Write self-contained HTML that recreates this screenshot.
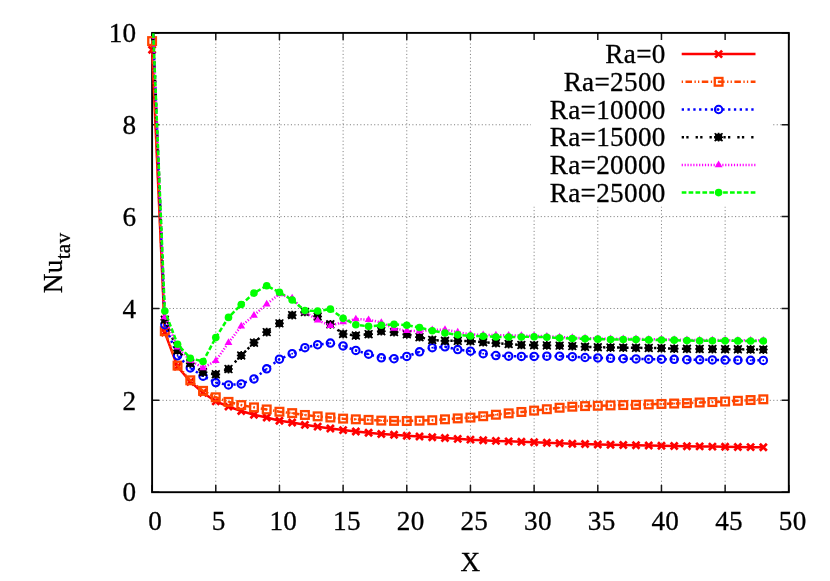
<!DOCTYPE html><html><head><meta charset="utf-8"><title>plot</title><style>html,body{margin:0;padding:0;background:#fff}svg{display:block;will-change:transform}text{font-family:"Liberation Serif",serif;font-size:27.2px;letter-spacing:0.3px;fill:#000;stroke:#000;stroke-width:0.3px}</style></head><body>
<svg width="830" height="581" viewBox="0 0 830 581">
<rect width="830" height="581" fill="#fff"/>
<path d="M215.77 492.2L215.77 32.9M279.44 492.2L279.44 32.9M343.11 492.2L343.11 32.9M406.78 492.2L406.78 32.9M470.45 492.2L470.45 32.9M534.12 492.2L534.12 32.9M597.79 492.2L597.79 32.9M661.46 492.2L661.46 32.9M725.13 492.2L725.13 32.9M152.1 400.34L788.8 400.34M152.1 308.48L788.8 308.48M152.1 216.62L788.8 216.62M152.1 124.76L788.8 124.76" stroke="#808080" stroke-width="1" stroke-dasharray="1.1 2.37" fill="none"/>
<rect x="531" y="34" width="241" height="172.5" fill="#fff"/>
<path d="M152.10 492.2L152.10 485.0M152.10 32.9L152.10 40.1M215.77 492.2L215.77 485.0M215.77 32.9L215.77 40.1M279.44 492.2L279.44 485.0M279.44 32.9L279.44 40.1M343.11 492.2L343.11 485.0M343.11 32.9L343.11 40.1M406.78 492.2L406.78 485.0M406.78 32.9L406.78 40.1M470.45 492.2L470.45 485.0M470.45 32.9L470.45 40.1M534.12 492.2L534.12 485.0M534.12 32.9L534.12 40.1M597.79 492.2L597.79 485.0M597.79 32.9L597.79 40.1M661.46 492.2L661.46 485.0M661.46 32.9L661.46 40.1M725.13 492.2L725.13 485.0M725.13 32.9L725.13 40.1M788.80 492.2L788.80 485.0M788.80 32.9L788.80 40.1M152.1 492.20L159.29999999999998 492.20M788.8 492.20L781.5999999999999 492.20M152.1 400.34L159.29999999999998 400.34M788.8 400.34L781.5999999999999 400.34M152.1 308.48L159.29999999999998 308.48M788.8 308.48L781.5999999999999 308.48M152.1 216.62L159.29999999999998 216.62M788.8 216.62L781.5999999999999 216.62M152.1 124.76L159.29999999999998 124.76M788.8 124.76L781.5999999999999 124.76M152.1 32.90L159.29999999999998 32.90M788.8 32.90L781.5999999999999 32.90" stroke="#1a1a1a" stroke-width="1.5" fill="none"/>
<text x="155.10" y="529.6" text-anchor="middle">0</text>
<text x="218.77" y="529.6" text-anchor="middle">5</text>
<text x="283.34" y="529.6" text-anchor="middle">10</text>
<text x="347.01" y="529.6" text-anchor="middle">15</text>
<text x="410.68" y="529.6" text-anchor="middle">20</text>
<text x="474.35" y="529.6" text-anchor="middle">25</text>
<text x="538.02" y="529.6" text-anchor="middle">30</text>
<text x="601.69" y="529.6" text-anchor="middle">35</text>
<text x="665.36" y="529.6" text-anchor="middle">40</text>
<text x="729.03" y="529.6" text-anchor="middle">45</text>
<text x="792.70" y="529.6" text-anchor="middle">50</text>
<text x="136.5" y="501.40" text-anchor="end">0</text>
<text x="136.5" y="409.54" text-anchor="end">2</text>
<text x="136.5" y="317.68" text-anchor="end">4</text>
<text x="136.5" y="225.82" text-anchor="end">6</text>
<text x="136.5" y="133.96" text-anchor="end">8</text>
<text x="136.5" y="42.10" text-anchor="end">10</text>
<text x="470.4" y="571.2" text-anchor="middle">X</text>
<text transform="translate(61.8,293.2) rotate(-90)" x="0" y="0">Nu<tspan font-size="21.33px" dy="8.5">tav</tspan></text>
<rect x="152.1" y="32.9" width="636.6999999999999" height="459.3" fill="none" stroke="#000" stroke-width="1.9"/>
<defs><clipPath id="c"><rect x="151.1" y="32.9" width="638.6999999999999" height="459.3"/></clipPath></defs>
<polyline points="152.10,49.82 164.83,332.57 177.57,366.53 190.30,381.68 203.04,392.70 215.77,401.42 228.50,406.47 241.24,411.06 253.97,414.73 266.71,417.48 279.44,420.70 292.17,422.53 304.91,424.83 317.64,426.66 330.38,428.50 343.11,430.11 355.84,431.48 368.58,432.77 381.31,434.01 394.05,434.79 406.78,435.75 419.51,436.49 432.25,437.22 444.98,438.00 457.72,438.83 470.45,439.65 483.18,440.30 495.92,440.89 508.65,441.35 521.39,441.81 534.12,442.27 546.85,442.73 559.59,443.28 572.32,443.74 585.06,444.06 597.79,444.43 610.52,444.70 623.26,444.93 635.99,445.21 648.73,445.48 661.46,445.80 674.19,446.03 686.93,446.22 699.66,446.40 712.40,446.58 725.13,446.77 737.86,446.95 750.60,447.13 763.33,447.32" fill="none" stroke="#ff0000" stroke-width="2.5" clip-path="url(#c)"/>
<path d="M148.60 46.32L155.60 53.32M148.60 53.32L155.60 46.32" stroke="#ff0000" stroke-width="2.7" fill="none"/>
<path d="M161.33 329.07L168.33 336.07M161.33 336.07L168.33 329.07" stroke="#ff0000" stroke-width="2.7" fill="none"/>
<path d="M174.07 363.03L181.07 370.03M174.07 370.03L181.07 363.03" stroke="#ff0000" stroke-width="2.7" fill="none"/>
<path d="M186.80 378.18L193.80 385.18M186.80 385.18L193.80 378.18" stroke="#ff0000" stroke-width="2.7" fill="none"/>
<path d="M199.54 389.20L206.54 396.20M199.54 396.20L206.54 389.20" stroke="#ff0000" stroke-width="2.7" fill="none"/>
<path d="M212.27 397.92L219.27 404.92M212.27 404.92L219.27 397.92" stroke="#ff0000" stroke-width="2.7" fill="none"/>
<path d="M225.00 402.97L232.00 409.97M225.00 409.97L232.00 402.97" stroke="#ff0000" stroke-width="2.7" fill="none"/>
<path d="M237.74 407.56L244.74 414.56M237.74 414.56L244.74 407.56" stroke="#ff0000" stroke-width="2.7" fill="none"/>
<path d="M250.47 411.23L257.47 418.23M250.47 418.23L257.47 411.23" stroke="#ff0000" stroke-width="2.7" fill="none"/>
<path d="M263.21 413.98L270.21 420.98M263.21 420.98L270.21 413.98" stroke="#ff0000" stroke-width="2.7" fill="none"/>
<path d="M275.94 417.20L282.94 424.20M275.94 424.20L282.94 417.20" stroke="#ff0000" stroke-width="2.7" fill="none"/>
<path d="M288.67 419.03L295.67 426.03M288.67 426.03L295.67 419.03" stroke="#ff0000" stroke-width="2.7" fill="none"/>
<path d="M301.41 421.33L308.41 428.33M301.41 428.33L308.41 421.33" stroke="#ff0000" stroke-width="2.7" fill="none"/>
<path d="M314.14 423.16L321.14 430.16M314.14 430.16L321.14 423.16" stroke="#ff0000" stroke-width="2.7" fill="none"/>
<path d="M326.88 425.00L333.88 432.00M326.88 432.00L333.88 425.00" stroke="#ff0000" stroke-width="2.7" fill="none"/>
<path d="M339.61 426.61L346.61 433.61M339.61 433.61L346.61 426.61" stroke="#ff0000" stroke-width="2.7" fill="none"/>
<path d="M352.34 427.98L359.34 434.98M352.34 434.98L359.34 427.98" stroke="#ff0000" stroke-width="2.7" fill="none"/>
<path d="M365.08 429.27L372.08 436.27M365.08 436.27L372.08 429.27" stroke="#ff0000" stroke-width="2.7" fill="none"/>
<path d="M377.81 430.51L384.81 437.51M377.81 437.51L384.81 430.51" stroke="#ff0000" stroke-width="2.7" fill="none"/>
<path d="M390.55 431.29L397.55 438.29M390.55 438.29L397.55 431.29" stroke="#ff0000" stroke-width="2.7" fill="none"/>
<path d="M403.28 432.25L410.28 439.25M403.28 439.25L410.28 432.25" stroke="#ff0000" stroke-width="2.7" fill="none"/>
<path d="M416.01 432.99L423.01 439.99M416.01 439.99L423.01 432.99" stroke="#ff0000" stroke-width="2.7" fill="none"/>
<path d="M428.75 433.72L435.75 440.72M428.75 440.72L435.75 433.72" stroke="#ff0000" stroke-width="2.7" fill="none"/>
<path d="M441.48 434.50L448.48 441.50M441.48 441.50L448.48 434.50" stroke="#ff0000" stroke-width="2.7" fill="none"/>
<path d="M454.22 435.33L461.22 442.33M454.22 442.33L461.22 435.33" stroke="#ff0000" stroke-width="2.7" fill="none"/>
<path d="M466.95 436.15L473.95 443.15M466.95 443.15L473.95 436.15" stroke="#ff0000" stroke-width="2.7" fill="none"/>
<path d="M479.68 436.80L486.68 443.80M479.68 443.80L486.68 436.80" stroke="#ff0000" stroke-width="2.7" fill="none"/>
<path d="M492.42 437.39L499.42 444.39M492.42 444.39L499.42 437.39" stroke="#ff0000" stroke-width="2.7" fill="none"/>
<path d="M505.15 437.85L512.15 444.85M505.15 444.85L512.15 437.85" stroke="#ff0000" stroke-width="2.7" fill="none"/>
<path d="M517.89 438.31L524.89 445.31M517.89 445.31L524.89 438.31" stroke="#ff0000" stroke-width="2.7" fill="none"/>
<path d="M530.62 438.77L537.62 445.77M530.62 445.77L537.62 438.77" stroke="#ff0000" stroke-width="2.7" fill="none"/>
<path d="M543.35 439.23L550.35 446.23M543.35 446.23L550.35 439.23" stroke="#ff0000" stroke-width="2.7" fill="none"/>
<path d="M556.09 439.78L563.09 446.78M556.09 446.78L563.09 439.78" stroke="#ff0000" stroke-width="2.7" fill="none"/>
<path d="M568.82 440.24L575.82 447.24M568.82 447.24L575.82 440.24" stroke="#ff0000" stroke-width="2.7" fill="none"/>
<path d="M581.56 440.56L588.56 447.56M581.56 447.56L588.56 440.56" stroke="#ff0000" stroke-width="2.7" fill="none"/>
<path d="M594.29 440.93L601.29 447.93M594.29 447.93L601.29 440.93" stroke="#ff0000" stroke-width="2.7" fill="none"/>
<path d="M607.02 441.20L614.02 448.20M607.02 448.20L614.02 441.20" stroke="#ff0000" stroke-width="2.7" fill="none"/>
<path d="M619.76 441.43L626.76 448.43M619.76 448.43L626.76 441.43" stroke="#ff0000" stroke-width="2.7" fill="none"/>
<path d="M632.49 441.71L639.49 448.71M632.49 448.71L639.49 441.71" stroke="#ff0000" stroke-width="2.7" fill="none"/>
<path d="M645.23 441.98L652.23 448.98M645.23 448.98L652.23 441.98" stroke="#ff0000" stroke-width="2.7" fill="none"/>
<path d="M657.96 442.30L664.96 449.30M657.96 449.30L664.96 442.30" stroke="#ff0000" stroke-width="2.7" fill="none"/>
<path d="M670.69 442.53L677.69 449.53M670.69 449.53L677.69 442.53" stroke="#ff0000" stroke-width="2.7" fill="none"/>
<path d="M683.43 442.72L690.43 449.72M683.43 449.72L690.43 442.72" stroke="#ff0000" stroke-width="2.7" fill="none"/>
<path d="M696.16 442.90L703.16 449.90M696.16 449.90L703.16 442.90" stroke="#ff0000" stroke-width="2.7" fill="none"/>
<path d="M708.90 443.08L715.90 450.08M708.90 450.08L715.90 443.08" stroke="#ff0000" stroke-width="2.7" fill="none"/>
<path d="M721.63 443.27L728.63 450.27M721.63 450.27L728.63 443.27" stroke="#ff0000" stroke-width="2.7" fill="none"/>
<path d="M734.36 443.45L741.36 450.45M734.36 450.45L741.36 443.45" stroke="#ff0000" stroke-width="2.7" fill="none"/>
<path d="M747.10 443.63L754.10 450.63M747.10 450.63L754.10 443.63" stroke="#ff0000" stroke-width="2.7" fill="none"/>
<path d="M759.83 443.82L766.83 450.82M759.83 450.82L766.83 443.82" stroke="#ff0000" stroke-width="2.7" fill="none"/>
<text x="665.7" y="63.20" text-anchor="end">Ra=0</text>
<path d="M681.7 54.10L755.5 54.10" stroke="#ff0000" stroke-width="2.5" fill="none"/>
<path d="M715.10 50.60L722.10 57.60M715.10 57.60L722.10 50.60" stroke="#ff0000" stroke-width="2.7" fill="none"/>
<polyline points="152.10,41.10 164.83,331.19 177.57,365.62 190.30,380.30 203.04,390.86 215.77,397.29 228.50,401.88 241.24,405.09 253.97,407.38 266.71,409.45 279.44,411.75 292.17,413.12 304.91,414.96 317.64,416.34 330.38,417.48 343.11,418.63 355.84,419.32 368.58,419.87 381.31,420.60 394.05,420.88 406.78,421.02 419.51,420.70 432.25,420.24 444.98,419.32 457.72,418.40 470.45,417.57 483.18,416.24 495.92,414.73 508.65,413.35 521.39,411.98 534.12,410.60 546.85,409.22 559.59,407.75 572.32,406.70 585.06,406.10 597.79,405.78 610.52,405.41 623.26,405.09 635.99,404.86 648.73,404.40 661.46,403.94 674.19,403.53 686.93,403.16 699.66,402.52 712.40,402.06 725.13,401.51 737.86,400.78 750.60,400.04 763.33,399.31" fill="none" stroke="#ff4500" stroke-width="2.5" stroke-dasharray="6.5 2.5 1.3 2.2 1.3 2.5" clip-path="url(#c)"/>
<rect x="148.25" y="37.25" width="7.7" height="7.7" stroke="#ff4500" stroke-width="2.3" fill="none"/><rect x="151.30" y="40.30" width="1.6" height="1.6" fill="#ff4500"/>
<rect x="160.98" y="327.34" width="7.7" height="7.7" stroke="#ff4500" stroke-width="2.3" fill="none"/><rect x="164.03" y="330.39" width="1.6" height="1.6" fill="#ff4500"/>
<rect x="173.72" y="361.77" width="7.7" height="7.7" stroke="#ff4500" stroke-width="2.3" fill="none"/><rect x="176.77" y="364.82" width="1.6" height="1.6" fill="#ff4500"/>
<rect x="186.45" y="376.45" width="7.7" height="7.7" stroke="#ff4500" stroke-width="2.3" fill="none"/><rect x="189.50" y="379.50" width="1.6" height="1.6" fill="#ff4500"/>
<rect x="199.19" y="387.01" width="7.7" height="7.7" stroke="#ff4500" stroke-width="2.3" fill="none"/><rect x="202.24" y="390.06" width="1.6" height="1.6" fill="#ff4500"/>
<rect x="211.92" y="393.44" width="7.7" height="7.7" stroke="#ff4500" stroke-width="2.3" fill="none"/><rect x="214.97" y="396.49" width="1.6" height="1.6" fill="#ff4500"/>
<rect x="224.65" y="398.03" width="7.7" height="7.7" stroke="#ff4500" stroke-width="2.3" fill="none"/><rect x="227.70" y="401.08" width="1.6" height="1.6" fill="#ff4500"/>
<rect x="237.39" y="401.24" width="7.7" height="7.7" stroke="#ff4500" stroke-width="2.3" fill="none"/><rect x="240.44" y="404.29" width="1.6" height="1.6" fill="#ff4500"/>
<rect x="250.12" y="403.53" width="7.7" height="7.7" stroke="#ff4500" stroke-width="2.3" fill="none"/><rect x="253.17" y="406.58" width="1.6" height="1.6" fill="#ff4500"/>
<rect x="262.86" y="405.60" width="7.7" height="7.7" stroke="#ff4500" stroke-width="2.3" fill="none"/><rect x="265.91" y="408.65" width="1.6" height="1.6" fill="#ff4500"/>
<rect x="275.59" y="407.90" width="7.7" height="7.7" stroke="#ff4500" stroke-width="2.3" fill="none"/><rect x="278.64" y="410.95" width="1.6" height="1.6" fill="#ff4500"/>
<rect x="288.32" y="409.27" width="7.7" height="7.7" stroke="#ff4500" stroke-width="2.3" fill="none"/><rect x="291.37" y="412.32" width="1.6" height="1.6" fill="#ff4500"/>
<rect x="301.06" y="411.11" width="7.7" height="7.7" stroke="#ff4500" stroke-width="2.3" fill="none"/><rect x="304.11" y="414.16" width="1.6" height="1.6" fill="#ff4500"/>
<rect x="313.79" y="412.49" width="7.7" height="7.7" stroke="#ff4500" stroke-width="2.3" fill="none"/><rect x="316.84" y="415.54" width="1.6" height="1.6" fill="#ff4500"/>
<rect x="326.53" y="413.63" width="7.7" height="7.7" stroke="#ff4500" stroke-width="2.3" fill="none"/><rect x="329.58" y="416.68" width="1.6" height="1.6" fill="#ff4500"/>
<rect x="339.26" y="414.78" width="7.7" height="7.7" stroke="#ff4500" stroke-width="2.3" fill="none"/><rect x="342.31" y="417.83" width="1.6" height="1.6" fill="#ff4500"/>
<rect x="351.99" y="415.47" width="7.7" height="7.7" stroke="#ff4500" stroke-width="2.3" fill="none"/><rect x="355.04" y="418.52" width="1.6" height="1.6" fill="#ff4500"/>
<rect x="364.73" y="416.02" width="7.7" height="7.7" stroke="#ff4500" stroke-width="2.3" fill="none"/><rect x="367.78" y="419.07" width="1.6" height="1.6" fill="#ff4500"/>
<rect x="377.46" y="416.75" width="7.7" height="7.7" stroke="#ff4500" stroke-width="2.3" fill="none"/><rect x="380.51" y="419.80" width="1.6" height="1.6" fill="#ff4500"/>
<rect x="390.20" y="417.03" width="7.7" height="7.7" stroke="#ff4500" stroke-width="2.3" fill="none"/><rect x="393.25" y="420.08" width="1.6" height="1.6" fill="#ff4500"/>
<rect x="402.93" y="417.17" width="7.7" height="7.7" stroke="#ff4500" stroke-width="2.3" fill="none"/><rect x="405.98" y="420.22" width="1.6" height="1.6" fill="#ff4500"/>
<rect x="415.66" y="416.85" width="7.7" height="7.7" stroke="#ff4500" stroke-width="2.3" fill="none"/><rect x="418.71" y="419.90" width="1.6" height="1.6" fill="#ff4500"/>
<rect x="428.40" y="416.39" width="7.7" height="7.7" stroke="#ff4500" stroke-width="2.3" fill="none"/><rect x="431.45" y="419.44" width="1.6" height="1.6" fill="#ff4500"/>
<rect x="441.13" y="415.47" width="7.7" height="7.7" stroke="#ff4500" stroke-width="2.3" fill="none"/><rect x="444.18" y="418.52" width="1.6" height="1.6" fill="#ff4500"/>
<rect x="453.87" y="414.55" width="7.7" height="7.7" stroke="#ff4500" stroke-width="2.3" fill="none"/><rect x="456.92" y="417.60" width="1.6" height="1.6" fill="#ff4500"/>
<rect x="466.60" y="413.72" width="7.7" height="7.7" stroke="#ff4500" stroke-width="2.3" fill="none"/><rect x="469.65" y="416.77" width="1.6" height="1.6" fill="#ff4500"/>
<rect x="479.33" y="412.39" width="7.7" height="7.7" stroke="#ff4500" stroke-width="2.3" fill="none"/><rect x="482.38" y="415.44" width="1.6" height="1.6" fill="#ff4500"/>
<rect x="492.07" y="410.88" width="7.7" height="7.7" stroke="#ff4500" stroke-width="2.3" fill="none"/><rect x="495.12" y="413.93" width="1.6" height="1.6" fill="#ff4500"/>
<rect x="504.80" y="409.50" width="7.7" height="7.7" stroke="#ff4500" stroke-width="2.3" fill="none"/><rect x="507.85" y="412.55" width="1.6" height="1.6" fill="#ff4500"/>
<rect x="517.54" y="408.12" width="7.7" height="7.7" stroke="#ff4500" stroke-width="2.3" fill="none"/><rect x="520.59" y="411.18" width="1.6" height="1.6" fill="#ff4500"/>
<rect x="530.27" y="406.75" width="7.7" height="7.7" stroke="#ff4500" stroke-width="2.3" fill="none"/><rect x="533.32" y="409.80" width="1.6" height="1.6" fill="#ff4500"/>
<rect x="543.00" y="405.37" width="7.7" height="7.7" stroke="#ff4500" stroke-width="2.3" fill="none"/><rect x="546.05" y="408.42" width="1.6" height="1.6" fill="#ff4500"/>
<rect x="555.74" y="403.90" width="7.7" height="7.7" stroke="#ff4500" stroke-width="2.3" fill="none"/><rect x="558.79" y="406.95" width="1.6" height="1.6" fill="#ff4500"/>
<rect x="568.47" y="402.85" width="7.7" height="7.7" stroke="#ff4500" stroke-width="2.3" fill="none"/><rect x="571.52" y="405.90" width="1.6" height="1.6" fill="#ff4500"/>
<rect x="581.21" y="402.25" width="7.7" height="7.7" stroke="#ff4500" stroke-width="2.3" fill="none"/><rect x="584.26" y="405.30" width="1.6" height="1.6" fill="#ff4500"/>
<rect x="593.94" y="401.93" width="7.7" height="7.7" stroke="#ff4500" stroke-width="2.3" fill="none"/><rect x="596.99" y="404.98" width="1.6" height="1.6" fill="#ff4500"/>
<rect x="606.67" y="401.56" width="7.7" height="7.7" stroke="#ff4500" stroke-width="2.3" fill="none"/><rect x="609.72" y="404.61" width="1.6" height="1.6" fill="#ff4500"/>
<rect x="619.41" y="401.24" width="7.7" height="7.7" stroke="#ff4500" stroke-width="2.3" fill="none"/><rect x="622.46" y="404.29" width="1.6" height="1.6" fill="#ff4500"/>
<rect x="632.14" y="401.01" width="7.7" height="7.7" stroke="#ff4500" stroke-width="2.3" fill="none"/><rect x="635.19" y="404.06" width="1.6" height="1.6" fill="#ff4500"/>
<rect x="644.88" y="400.55" width="7.7" height="7.7" stroke="#ff4500" stroke-width="2.3" fill="none"/><rect x="647.93" y="403.60" width="1.6" height="1.6" fill="#ff4500"/>
<rect x="657.61" y="400.09" width="7.7" height="7.7" stroke="#ff4500" stroke-width="2.3" fill="none"/><rect x="660.66" y="403.14" width="1.6" height="1.6" fill="#ff4500"/>
<rect x="670.34" y="399.68" width="7.7" height="7.7" stroke="#ff4500" stroke-width="2.3" fill="none"/><rect x="673.39" y="402.73" width="1.6" height="1.6" fill="#ff4500"/>
<rect x="683.08" y="399.31" width="7.7" height="7.7" stroke="#ff4500" stroke-width="2.3" fill="none"/><rect x="686.13" y="402.36" width="1.6" height="1.6" fill="#ff4500"/>
<rect x="695.81" y="398.67" width="7.7" height="7.7" stroke="#ff4500" stroke-width="2.3" fill="none"/><rect x="698.86" y="401.72" width="1.6" height="1.6" fill="#ff4500"/>
<rect x="708.55" y="398.21" width="7.7" height="7.7" stroke="#ff4500" stroke-width="2.3" fill="none"/><rect x="711.60" y="401.26" width="1.6" height="1.6" fill="#ff4500"/>
<rect x="721.28" y="397.66" width="7.7" height="7.7" stroke="#ff4500" stroke-width="2.3" fill="none"/><rect x="724.33" y="400.71" width="1.6" height="1.6" fill="#ff4500"/>
<rect x="734.01" y="396.93" width="7.7" height="7.7" stroke="#ff4500" stroke-width="2.3" fill="none"/><rect x="737.06" y="399.98" width="1.6" height="1.6" fill="#ff4500"/>
<rect x="746.75" y="396.19" width="7.7" height="7.7" stroke="#ff4500" stroke-width="2.3" fill="none"/><rect x="749.80" y="399.24" width="1.6" height="1.6" fill="#ff4500"/>
<rect x="759.48" y="395.46" width="7.7" height="7.7" stroke="#ff4500" stroke-width="2.3" fill="none"/><rect x="762.53" y="398.51" width="1.6" height="1.6" fill="#ff4500"/>
<text x="665.7" y="90.90" text-anchor="end">Ra=2500</text>
<path d="M681.7 81.80L755.5 81.80" stroke="#ff4500" stroke-width="2.5" stroke-dasharray="6.5 2.5 1.3 2.2 1.3 2.5" stroke-dashoffset="12.5" fill="none"/>
<rect x="714.75" y="77.95" width="7.7" height="7.7" stroke="#ff4500" stroke-width="2.3" fill="none"/><rect x="717.80" y="81.00" width="1.6" height="1.6" fill="#ff4500"/>
<polyline points="152.10,5.76 164.83,324.76 177.57,355.75 190.30,367.91 203.04,376.17 215.77,382.60 228.50,384.89 241.24,383.98 253.97,378.93 266.71,368.83 279.44,359.19 292.17,353.68 304.91,347.72 317.64,344.73 330.38,343.12 343.11,345.88 355.84,350.47 368.58,354.14 381.31,357.81 394.05,358.73 406.78,356.44 419.51,351.85 432.25,347.72 444.98,346.80 457.72,349.55 470.45,351.16 483.18,353.68 495.92,355.52 508.65,356.21 521.39,356.44 534.12,356.44 546.85,356.21 559.59,356.21 572.32,356.67 585.06,357.49 597.79,357.90 610.52,358.36 623.26,358.73 635.99,358.91 648.73,359.19 661.46,359.19 674.19,359.37 686.93,359.65 699.66,359.79 712.40,359.92 725.13,360.06 737.86,360.15 750.60,360.29 763.33,360.38" fill="none" stroke="#0000ff" stroke-width="2.5" stroke-dasharray="2.3 3.5" clip-path="url(#c)"/>
<circle cx="164.83" cy="324.76" r="3.7" stroke="#0000ff" stroke-width="2.1" fill="none"/><circle cx="164.83" cy="324.76" r="0.9" fill="#0000ff"/>
<circle cx="177.57" cy="355.75" r="3.7" stroke="#0000ff" stroke-width="2.1" fill="none"/><circle cx="177.57" cy="355.75" r="0.9" fill="#0000ff"/>
<circle cx="190.30" cy="367.91" r="3.7" stroke="#0000ff" stroke-width="2.1" fill="none"/><circle cx="190.30" cy="367.91" r="0.9" fill="#0000ff"/>
<circle cx="203.04" cy="376.17" r="3.7" stroke="#0000ff" stroke-width="2.1" fill="none"/><circle cx="203.04" cy="376.17" r="0.9" fill="#0000ff"/>
<circle cx="215.77" cy="382.60" r="3.7" stroke="#0000ff" stroke-width="2.1" fill="none"/><circle cx="215.77" cy="382.60" r="0.9" fill="#0000ff"/>
<circle cx="228.50" cy="384.89" r="3.7" stroke="#0000ff" stroke-width="2.1" fill="none"/><circle cx="228.50" cy="384.89" r="0.9" fill="#0000ff"/>
<circle cx="241.24" cy="383.98" r="3.7" stroke="#0000ff" stroke-width="2.1" fill="none"/><circle cx="241.24" cy="383.98" r="0.9" fill="#0000ff"/>
<circle cx="253.97" cy="378.93" r="3.7" stroke="#0000ff" stroke-width="2.1" fill="none"/><circle cx="253.97" cy="378.93" r="0.9" fill="#0000ff"/>
<circle cx="266.71" cy="368.83" r="3.7" stroke="#0000ff" stroke-width="2.1" fill="none"/><circle cx="266.71" cy="368.83" r="0.9" fill="#0000ff"/>
<circle cx="279.44" cy="359.19" r="3.7" stroke="#0000ff" stroke-width="2.1" fill="none"/><circle cx="279.44" cy="359.19" r="0.9" fill="#0000ff"/>
<circle cx="292.17" cy="353.68" r="3.7" stroke="#0000ff" stroke-width="2.1" fill="none"/><circle cx="292.17" cy="353.68" r="0.9" fill="#0000ff"/>
<circle cx="304.91" cy="347.72" r="3.7" stroke="#0000ff" stroke-width="2.1" fill="none"/><circle cx="304.91" cy="347.72" r="0.9" fill="#0000ff"/>
<circle cx="317.64" cy="344.73" r="3.7" stroke="#0000ff" stroke-width="2.1" fill="none"/><circle cx="317.64" cy="344.73" r="0.9" fill="#0000ff"/>
<circle cx="330.38" cy="343.12" r="3.7" stroke="#0000ff" stroke-width="2.1" fill="none"/><circle cx="330.38" cy="343.12" r="0.9" fill="#0000ff"/>
<circle cx="343.11" cy="345.88" r="3.7" stroke="#0000ff" stroke-width="2.1" fill="none"/><circle cx="343.11" cy="345.88" r="0.9" fill="#0000ff"/>
<circle cx="355.84" cy="350.47" r="3.7" stroke="#0000ff" stroke-width="2.1" fill="none"/><circle cx="355.84" cy="350.47" r="0.9" fill="#0000ff"/>
<circle cx="368.58" cy="354.14" r="3.7" stroke="#0000ff" stroke-width="2.1" fill="none"/><circle cx="368.58" cy="354.14" r="0.9" fill="#0000ff"/>
<circle cx="381.31" cy="357.81" r="3.7" stroke="#0000ff" stroke-width="2.1" fill="none"/><circle cx="381.31" cy="357.81" r="0.9" fill="#0000ff"/>
<circle cx="394.05" cy="358.73" r="3.7" stroke="#0000ff" stroke-width="2.1" fill="none"/><circle cx="394.05" cy="358.73" r="0.9" fill="#0000ff"/>
<circle cx="406.78" cy="356.44" r="3.7" stroke="#0000ff" stroke-width="2.1" fill="none"/><circle cx="406.78" cy="356.44" r="0.9" fill="#0000ff"/>
<circle cx="419.51" cy="351.85" r="3.7" stroke="#0000ff" stroke-width="2.1" fill="none"/><circle cx="419.51" cy="351.85" r="0.9" fill="#0000ff"/>
<circle cx="432.25" cy="347.72" r="3.7" stroke="#0000ff" stroke-width="2.1" fill="none"/><circle cx="432.25" cy="347.72" r="0.9" fill="#0000ff"/>
<circle cx="444.98" cy="346.80" r="3.7" stroke="#0000ff" stroke-width="2.1" fill="none"/><circle cx="444.98" cy="346.80" r="0.9" fill="#0000ff"/>
<circle cx="457.72" cy="349.55" r="3.7" stroke="#0000ff" stroke-width="2.1" fill="none"/><circle cx="457.72" cy="349.55" r="0.9" fill="#0000ff"/>
<circle cx="470.45" cy="351.16" r="3.7" stroke="#0000ff" stroke-width="2.1" fill="none"/><circle cx="470.45" cy="351.16" r="0.9" fill="#0000ff"/>
<circle cx="483.18" cy="353.68" r="3.7" stroke="#0000ff" stroke-width="2.1" fill="none"/><circle cx="483.18" cy="353.68" r="0.9" fill="#0000ff"/>
<circle cx="495.92" cy="355.52" r="3.7" stroke="#0000ff" stroke-width="2.1" fill="none"/><circle cx="495.92" cy="355.52" r="0.9" fill="#0000ff"/>
<circle cx="508.65" cy="356.21" r="3.7" stroke="#0000ff" stroke-width="2.1" fill="none"/><circle cx="508.65" cy="356.21" r="0.9" fill="#0000ff"/>
<circle cx="521.39" cy="356.44" r="3.7" stroke="#0000ff" stroke-width="2.1" fill="none"/><circle cx="521.39" cy="356.44" r="0.9" fill="#0000ff"/>
<circle cx="534.12" cy="356.44" r="3.7" stroke="#0000ff" stroke-width="2.1" fill="none"/><circle cx="534.12" cy="356.44" r="0.9" fill="#0000ff"/>
<circle cx="546.85" cy="356.21" r="3.7" stroke="#0000ff" stroke-width="2.1" fill="none"/><circle cx="546.85" cy="356.21" r="0.9" fill="#0000ff"/>
<circle cx="559.59" cy="356.21" r="3.7" stroke="#0000ff" stroke-width="2.1" fill="none"/><circle cx="559.59" cy="356.21" r="0.9" fill="#0000ff"/>
<circle cx="572.32" cy="356.67" r="3.7" stroke="#0000ff" stroke-width="2.1" fill="none"/><circle cx="572.32" cy="356.67" r="0.9" fill="#0000ff"/>
<circle cx="585.06" cy="357.49" r="3.7" stroke="#0000ff" stroke-width="2.1" fill="none"/><circle cx="585.06" cy="357.49" r="0.9" fill="#0000ff"/>
<circle cx="597.79" cy="357.90" r="3.7" stroke="#0000ff" stroke-width="2.1" fill="none"/><circle cx="597.79" cy="357.90" r="0.9" fill="#0000ff"/>
<circle cx="610.52" cy="358.36" r="3.7" stroke="#0000ff" stroke-width="2.1" fill="none"/><circle cx="610.52" cy="358.36" r="0.9" fill="#0000ff"/>
<circle cx="623.26" cy="358.73" r="3.7" stroke="#0000ff" stroke-width="2.1" fill="none"/><circle cx="623.26" cy="358.73" r="0.9" fill="#0000ff"/>
<circle cx="635.99" cy="358.91" r="3.7" stroke="#0000ff" stroke-width="2.1" fill="none"/><circle cx="635.99" cy="358.91" r="0.9" fill="#0000ff"/>
<circle cx="648.73" cy="359.19" r="3.7" stroke="#0000ff" stroke-width="2.1" fill="none"/><circle cx="648.73" cy="359.19" r="0.9" fill="#0000ff"/>
<circle cx="661.46" cy="359.19" r="3.7" stroke="#0000ff" stroke-width="2.1" fill="none"/><circle cx="661.46" cy="359.19" r="0.9" fill="#0000ff"/>
<circle cx="674.19" cy="359.37" r="3.7" stroke="#0000ff" stroke-width="2.1" fill="none"/><circle cx="674.19" cy="359.37" r="0.9" fill="#0000ff"/>
<circle cx="686.93" cy="359.65" r="3.7" stroke="#0000ff" stroke-width="2.1" fill="none"/><circle cx="686.93" cy="359.65" r="0.9" fill="#0000ff"/>
<circle cx="699.66" cy="359.79" r="3.7" stroke="#0000ff" stroke-width="2.1" fill="none"/><circle cx="699.66" cy="359.79" r="0.9" fill="#0000ff"/>
<circle cx="712.40" cy="359.92" r="3.7" stroke="#0000ff" stroke-width="2.1" fill="none"/><circle cx="712.40" cy="359.92" r="0.9" fill="#0000ff"/>
<circle cx="725.13" cy="360.06" r="3.7" stroke="#0000ff" stroke-width="2.1" fill="none"/><circle cx="725.13" cy="360.06" r="0.9" fill="#0000ff"/>
<circle cx="737.86" cy="360.15" r="3.7" stroke="#0000ff" stroke-width="2.1" fill="none"/><circle cx="737.86" cy="360.15" r="0.9" fill="#0000ff"/>
<circle cx="750.60" cy="360.29" r="3.7" stroke="#0000ff" stroke-width="2.1" fill="none"/><circle cx="750.60" cy="360.29" r="0.9" fill="#0000ff"/>
<circle cx="763.33" cy="360.38" r="3.7" stroke="#0000ff" stroke-width="2.1" fill="none"/><circle cx="763.33" cy="360.38" r="0.9" fill="#0000ff"/>
<text x="665.7" y="118.60" text-anchor="end">Ra=10000</text>
<path d="M681.7 109.50L755.5 109.50" stroke="#0000ff" stroke-width="2.5" stroke-dasharray="2.3 3.5" fill="none"/>
<circle cx="718.60" cy="109.50" r="3.7" stroke="#0000ff" stroke-width="2.1" fill="none"/><circle cx="718.60" cy="109.50" r="0.9" fill="#0000ff"/>
<polyline points="152.10,5.76 164.83,319.72 177.57,350.47 190.30,363.32 203.04,372.27 215.77,374.34 228.50,369.06 241.24,355.52 253.97,342.67 266.71,332.11 279.44,323.39 292.17,315.13 304.91,311.91 317.64,316.50 330.38,324.31 343.11,333.95 355.84,335.55 368.58,334.17 381.31,331.19 394.05,332.11 406.78,334.40 419.51,337.16 432.25,339.91 444.98,340.83 457.72,340.83 470.45,341.06 483.18,342.21 495.92,343.12 508.65,344.04 521.39,344.96 534.12,345.19 546.85,345.42 559.59,345.65 572.32,346.11 585.06,346.80 597.79,347.26 610.52,347.49 623.26,347.62 635.99,347.81 648.73,347.94 661.46,348.17 674.19,348.63 686.93,348.82 699.66,348.95 712.40,349.09 725.13,349.18 737.86,349.32 750.60,349.46 763.33,349.55" fill="none" stroke="#000000" stroke-width="2.5" stroke-dasharray="2.3 2.3 2.3 7" clip-path="url(#c)"/>
<rect x="161.33" y="316.22" width="7.0" height="7.0" fill="#000000"/><path d="M160.93 315.82L168.73 323.62M160.93 323.62L168.73 315.82M160.43 319.72L169.23 319.72M164.83 315.32L164.83 324.12" stroke="#000000" stroke-width="1.6" fill="none"/>
<rect x="174.07" y="346.97" width="7.0" height="7.0" fill="#000000"/><path d="M173.67 346.57L181.47 354.37M173.67 354.37L181.47 346.57M173.17 350.47L181.97 350.47M177.57 346.07L177.57 354.87" stroke="#000000" stroke-width="1.6" fill="none"/>
<rect x="186.80" y="359.82" width="7.0" height="7.0" fill="#000000"/><path d="M186.40 359.42L194.20 367.22M186.40 367.22L194.20 359.42M185.90 363.32L194.70 363.32M190.30 358.92L190.30 367.72" stroke="#000000" stroke-width="1.6" fill="none"/>
<rect x="199.54" y="368.77" width="7.0" height="7.0" fill="#000000"/><path d="M199.14 368.37L206.94 376.17M199.14 376.17L206.94 368.37M198.64 372.27L207.44 372.27M203.04 367.87L203.04 376.67" stroke="#000000" stroke-width="1.6" fill="none"/>
<rect x="212.27" y="370.84" width="7.0" height="7.0" fill="#000000"/><path d="M211.87 370.44L219.67 378.24M211.87 378.24L219.67 370.44M211.37 374.34L220.17 374.34M215.77 369.94L215.77 378.74" stroke="#000000" stroke-width="1.6" fill="none"/>
<rect x="225.00" y="365.56" width="7.0" height="7.0" fill="#000000"/><path d="M224.60 365.16L232.40 372.96M224.60 372.96L232.40 365.16M224.10 369.06L232.90 369.06M228.50 364.66L228.50 373.46" stroke="#000000" stroke-width="1.6" fill="none"/>
<rect x="237.74" y="352.02" width="7.0" height="7.0" fill="#000000"/><path d="M237.34 351.62L245.14 359.42M237.34 359.42L245.14 351.62M236.84 355.52L245.64 355.52M241.24 351.12L241.24 359.92" stroke="#000000" stroke-width="1.6" fill="none"/>
<rect x="250.47" y="339.17" width="7.0" height="7.0" fill="#000000"/><path d="M250.07 338.77L257.87 346.57M250.07 346.57L257.87 338.77M249.57 342.67L258.37 342.67M253.97 338.27L253.97 347.07" stroke="#000000" stroke-width="1.6" fill="none"/>
<rect x="263.21" y="328.61" width="7.0" height="7.0" fill="#000000"/><path d="M262.81 328.21L270.61 336.01M262.81 336.01L270.61 328.21M262.31 332.11L271.11 332.11M266.71 327.71L266.71 336.51" stroke="#000000" stroke-width="1.6" fill="none"/>
<rect x="275.94" y="319.89" width="7.0" height="7.0" fill="#000000"/><path d="M275.54 319.49L283.34 327.29M275.54 327.29L283.34 319.49M275.04 323.39L283.84 323.39M279.44 318.99L279.44 327.79" stroke="#000000" stroke-width="1.6" fill="none"/>
<rect x="288.67" y="311.63" width="7.0" height="7.0" fill="#000000"/><path d="M288.27 311.23L296.07 319.03M288.27 319.03L296.07 311.23M287.77 315.13L296.57 315.13M292.17 310.73L292.17 319.53" stroke="#000000" stroke-width="1.6" fill="none"/>
<rect x="301.41" y="308.41" width="7.0" height="7.0" fill="#000000"/><path d="M301.01 308.01L308.81 315.81M301.01 315.81L308.81 308.01M300.51 311.91L309.31 311.91M304.91 307.51L304.91 316.31" stroke="#000000" stroke-width="1.6" fill="none"/>
<rect x="314.14" y="313.00" width="7.0" height="7.0" fill="#000000"/><path d="M313.74 312.60L321.54 320.40M313.74 320.40L321.54 312.60M313.24 316.50L322.04 316.50M317.64 312.10L317.64 320.90" stroke="#000000" stroke-width="1.6" fill="none"/>
<rect x="326.88" y="320.81" width="7.0" height="7.0" fill="#000000"/><path d="M326.48 320.41L334.28 328.21M326.48 328.21L334.28 320.41M325.98 324.31L334.78 324.31M330.38 319.91L330.38 328.71" stroke="#000000" stroke-width="1.6" fill="none"/>
<rect x="339.61" y="330.45" width="7.0" height="7.0" fill="#000000"/><path d="M339.21 330.05L347.01 337.85M339.21 337.85L347.01 330.05M338.71 333.95L347.51 333.95M343.11 329.55L343.11 338.35" stroke="#000000" stroke-width="1.6" fill="none"/>
<rect x="352.34" y="332.05" width="7.0" height="7.0" fill="#000000"/><path d="M351.94 331.65L359.74 339.45M351.94 339.45L359.74 331.65M351.44 335.55L360.24 335.55M355.84 331.15L355.84 339.95" stroke="#000000" stroke-width="1.6" fill="none"/>
<rect x="365.08" y="330.67" width="7.0" height="7.0" fill="#000000"/><path d="M364.68 330.27L372.48 338.07M364.68 338.07L372.48 330.27M364.18 334.17L372.98 334.17M368.58 329.77L368.58 338.57" stroke="#000000" stroke-width="1.6" fill="none"/>
<rect x="377.81" y="327.69" width="7.0" height="7.0" fill="#000000"/><path d="M377.41 327.29L385.21 335.09M377.41 335.09L385.21 327.29M376.91 331.19L385.71 331.19M381.31 326.79L381.31 335.59" stroke="#000000" stroke-width="1.6" fill="none"/>
<rect x="390.55" y="328.61" width="7.0" height="7.0" fill="#000000"/><path d="M390.15 328.21L397.95 336.01M390.15 336.01L397.95 328.21M389.65 332.11L398.45 332.11M394.05 327.71L394.05 336.51" stroke="#000000" stroke-width="1.6" fill="none"/>
<rect x="403.28" y="330.90" width="7.0" height="7.0" fill="#000000"/><path d="M402.88 330.50L410.68 338.30M402.88 338.30L410.68 330.50M402.38 334.40L411.18 334.40M406.78 330.00L406.78 338.80" stroke="#000000" stroke-width="1.6" fill="none"/>
<rect x="416.01" y="333.66" width="7.0" height="7.0" fill="#000000"/><path d="M415.61 333.26L423.41 341.06M415.61 341.06L423.41 333.26M415.11 337.16L423.91 337.16M419.51 332.76L419.51 341.56" stroke="#000000" stroke-width="1.6" fill="none"/>
<rect x="428.75" y="336.41" width="7.0" height="7.0" fill="#000000"/><path d="M428.35 336.01L436.15 343.81M428.35 343.81L436.15 336.01M427.85 339.91L436.65 339.91M432.25 335.51L432.25 344.31" stroke="#000000" stroke-width="1.6" fill="none"/>
<rect x="441.48" y="337.33" width="7.0" height="7.0" fill="#000000"/><path d="M441.08 336.93L448.88 344.73M441.08 344.73L448.88 336.93M440.58 340.83L449.38 340.83M444.98 336.43L444.98 345.23" stroke="#000000" stroke-width="1.6" fill="none"/>
<rect x="454.22" y="337.33" width="7.0" height="7.0" fill="#000000"/><path d="M453.82 336.93L461.62 344.73M453.82 344.73L461.62 336.93M453.32 340.83L462.12 340.83M457.72 336.43L457.72 345.23" stroke="#000000" stroke-width="1.6" fill="none"/>
<rect x="466.95" y="337.56" width="7.0" height="7.0" fill="#000000"/><path d="M466.55 337.16L474.35 344.96M466.55 344.96L474.35 337.16M466.05 341.06L474.85 341.06M470.45 336.66L470.45 345.46" stroke="#000000" stroke-width="1.6" fill="none"/>
<rect x="479.68" y="338.71" width="7.0" height="7.0" fill="#000000"/><path d="M479.28 338.31L487.08 346.11M479.28 346.11L487.08 338.31M478.78 342.21L487.58 342.21M483.18 337.81L483.18 346.61" stroke="#000000" stroke-width="1.6" fill="none"/>
<rect x="492.42" y="339.62" width="7.0" height="7.0" fill="#000000"/><path d="M492.02 339.23L499.82 347.02M492.02 347.02L499.82 339.23M491.52 343.12L500.32 343.12M495.92 338.73L495.92 347.52" stroke="#000000" stroke-width="1.6" fill="none"/>
<rect x="505.15" y="340.54" width="7.0" height="7.0" fill="#000000"/><path d="M504.75 340.14L512.55 347.94M504.75 347.94L512.55 340.14M504.25 344.04L513.05 344.04M508.65 339.64L508.65 348.44" stroke="#000000" stroke-width="1.6" fill="none"/>
<rect x="517.89" y="341.46" width="7.0" height="7.0" fill="#000000"/><path d="M517.49 341.06L525.29 348.86M517.49 348.86L525.29 341.06M516.99 344.96L525.79 344.96M521.39 340.56L521.39 349.36" stroke="#000000" stroke-width="1.6" fill="none"/>
<rect x="530.62" y="341.69" width="7.0" height="7.0" fill="#000000"/><path d="M530.22 341.29L538.02 349.09M530.22 349.09L538.02 341.29M529.72 345.19L538.52 345.19M534.12 340.79L534.12 349.59" stroke="#000000" stroke-width="1.6" fill="none"/>
<rect x="543.35" y="341.92" width="7.0" height="7.0" fill="#000000"/><path d="M542.95 341.52L550.75 349.32M542.95 349.32L550.75 341.52M542.45 345.42L551.25 345.42M546.85 341.02L546.85 349.82" stroke="#000000" stroke-width="1.6" fill="none"/>
<rect x="556.09" y="342.15" width="7.0" height="7.0" fill="#000000"/><path d="M555.69 341.75L563.49 349.55M555.69 349.55L563.49 341.75M555.19 345.65L563.99 345.65M559.59 341.25L559.59 350.05" stroke="#000000" stroke-width="1.6" fill="none"/>
<rect x="568.82" y="342.61" width="7.0" height="7.0" fill="#000000"/><path d="M568.42 342.21L576.22 350.01M568.42 350.01L576.22 342.21M567.92 346.11L576.72 346.11M572.32 341.71L572.32 350.51" stroke="#000000" stroke-width="1.6" fill="none"/>
<rect x="581.56" y="343.30" width="7.0" height="7.0" fill="#000000"/><path d="M581.16 342.90L588.96 350.70M581.16 350.70L588.96 342.90M580.66 346.80L589.46 346.80M585.06 342.40L585.06 351.20" stroke="#000000" stroke-width="1.6" fill="none"/>
<rect x="594.29" y="343.76" width="7.0" height="7.0" fill="#000000"/><path d="M593.89 343.36L601.69 351.16M593.89 351.16L601.69 343.36M593.39 347.26L602.19 347.26M597.79 342.86L597.79 351.66" stroke="#000000" stroke-width="1.6" fill="none"/>
<rect x="607.02" y="343.99" width="7.0" height="7.0" fill="#000000"/><path d="M606.62 343.59L614.42 351.39M606.62 351.39L614.42 343.59M606.12 347.49L614.92 347.49M610.52 343.09L610.52 351.89" stroke="#000000" stroke-width="1.6" fill="none"/>
<rect x="619.76" y="344.12" width="7.0" height="7.0" fill="#000000"/><path d="M619.36 343.72L627.16 351.52M619.36 351.52L627.16 343.72M618.86 347.62L627.66 347.62M623.26 343.22L623.26 352.02" stroke="#000000" stroke-width="1.6" fill="none"/>
<rect x="632.49" y="344.31" width="7.0" height="7.0" fill="#000000"/><path d="M632.09 343.91L639.89 351.71M632.09 351.71L639.89 343.91M631.59 347.81L640.39 347.81M635.99 343.41L635.99 352.21" stroke="#000000" stroke-width="1.6" fill="none"/>
<rect x="645.23" y="344.44" width="7.0" height="7.0" fill="#000000"/><path d="M644.83 344.04L652.63 351.84M644.83 351.84L652.63 344.04M644.33 347.94L653.13 347.94M648.73 343.54L648.73 352.34" stroke="#000000" stroke-width="1.6" fill="none"/>
<rect x="657.96" y="344.67" width="7.0" height="7.0" fill="#000000"/><path d="M657.56 344.27L665.36 352.07M657.56 352.07L665.36 344.27M657.06 348.17L665.86 348.17M661.46 343.77L661.46 352.57" stroke="#000000" stroke-width="1.6" fill="none"/>
<rect x="670.69" y="345.13" width="7.0" height="7.0" fill="#000000"/><path d="M670.29 344.73L678.09 352.53M670.29 352.53L678.09 344.73M669.79 348.63L678.59 348.63M674.19 344.23L674.19 353.03" stroke="#000000" stroke-width="1.6" fill="none"/>
<rect x="683.43" y="345.32" width="7.0" height="7.0" fill="#000000"/><path d="M683.03 344.92L690.83 352.72M683.03 352.72L690.83 344.92M682.53 348.82L691.33 348.82M686.93 344.42L686.93 353.22" stroke="#000000" stroke-width="1.6" fill="none"/>
<rect x="696.16" y="345.45" width="7.0" height="7.0" fill="#000000"/><path d="M695.76 345.05L703.56 352.85M695.76 352.85L703.56 345.05M695.26 348.95L704.06 348.95M699.66 344.55L699.66 353.35" stroke="#000000" stroke-width="1.6" fill="none"/>
<rect x="708.90" y="345.59" width="7.0" height="7.0" fill="#000000"/><path d="M708.50 345.19L716.30 352.99M708.50 352.99L716.30 345.19M708.00 349.09L716.80 349.09M712.40 344.69L712.40 353.49" stroke="#000000" stroke-width="1.6" fill="none"/>
<rect x="721.63" y="345.68" width="7.0" height="7.0" fill="#000000"/><path d="M721.23 345.28L729.03 353.08M721.23 353.08L729.03 345.28M720.73 349.18L729.53 349.18M725.13 344.78L725.13 353.58" stroke="#000000" stroke-width="1.6" fill="none"/>
<rect x="734.36" y="345.82" width="7.0" height="7.0" fill="#000000"/><path d="M733.96 345.42L741.76 353.22M733.96 353.22L741.76 345.42M733.46 349.32L742.26 349.32M737.86 344.92L737.86 353.72" stroke="#000000" stroke-width="1.6" fill="none"/>
<rect x="747.10" y="345.96" width="7.0" height="7.0" fill="#000000"/><path d="M746.70 345.56L754.50 353.36M746.70 353.36L754.50 345.56M746.20 349.46L755.00 349.46M750.60 345.06L750.60 353.86" stroke="#000000" stroke-width="1.6" fill="none"/>
<rect x="759.83" y="346.05" width="7.0" height="7.0" fill="#000000"/><path d="M759.43 345.65L767.23 353.45M759.43 353.45L767.23 345.65M758.93 349.55L767.73 349.55M763.33 345.15L763.33 353.95" stroke="#000000" stroke-width="1.6" fill="none"/>
<text x="665.7" y="146.30" text-anchor="end">Ra=15000</text>
<path d="M681.7 137.20L755.5 137.20" stroke="#000000" stroke-width="2.5" stroke-dasharray="2.3 2.3 2.3 7" fill="none"/>
<rect x="715.10" y="133.70" width="7.0" height="7.0" fill="#000000"/><path d="M714.70 133.30L722.50 141.10M714.70 141.10L722.50 133.30M714.20 137.20L723.00 137.20M718.60 132.80L718.60 141.60" stroke="#000000" stroke-width="1.6" fill="none"/>
<polyline points="152.10,5.76 164.83,316.96 177.57,347.26 190.30,360.57 203.04,367.91 215.77,360.80 228.50,342.67 241.24,326.14 253.97,315.36 266.71,304.11 279.44,294.01 292.17,298.14 304.91,311.91 317.64,320.18 330.38,325.68 343.11,322.01 355.84,319.03 368.58,319.72 381.31,322.47 394.05,328.44 406.78,330.73 419.51,331.19 432.25,329.81 444.98,329.58 457.72,332.11 470.45,334.40 483.18,334.86 495.92,335.09 508.65,335.32 521.39,335.55 534.12,335.78 546.85,336.24 559.59,336.93 572.32,337.62 585.06,338.17 597.79,338.44 610.52,338.76 623.26,338.76 635.99,338.90 648.73,339.22 661.46,339.32 674.19,339.45 686.93,339.91 699.66,340.00 712.40,340.05 725.13,340.14 737.86,340.19 750.60,340.28 763.33,340.33" fill="none" stroke="#ff00ff" stroke-width="2.5" stroke-dasharray="1.2 1.7" clip-path="url(#c)"/>
<path d="M164.83 312.66L168.73 319.26L160.93 319.26Z" fill="#ff00ff"/>
<path d="M177.57 342.96L181.47 349.56L173.67 349.56Z" fill="#ff00ff"/>
<path d="M190.30 356.27L194.20 362.87L186.40 362.87Z" fill="#ff00ff"/>
<path d="M203.04 363.61L206.94 370.21L199.14 370.21Z" fill="#ff00ff"/>
<path d="M215.77 356.50L219.67 363.10L211.87 363.10Z" fill="#ff00ff"/>
<path d="M228.50 338.37L232.40 344.97L224.60 344.97Z" fill="#ff00ff"/>
<path d="M241.24 321.84L245.14 328.44L237.34 328.44Z" fill="#ff00ff"/>
<path d="M253.97 311.06L257.87 317.66L250.07 317.66Z" fill="#ff00ff"/>
<path d="M266.71 299.81L270.61 306.41L262.81 306.41Z" fill="#ff00ff"/>
<path d="M279.44 289.71L283.34 296.31L275.54 296.31Z" fill="#ff00ff"/>
<path d="M292.17 293.84L296.07 300.44L288.27 300.44Z" fill="#ff00ff"/>
<path d="M304.91 307.61L308.81 314.21L301.01 314.21Z" fill="#ff00ff"/>
<path d="M317.64 315.88L321.54 322.48L313.74 322.48Z" fill="#ff00ff"/>
<path d="M330.38 321.38L334.28 327.98L326.48 327.98Z" fill="#ff00ff"/>
<path d="M343.11 317.71L347.01 324.31L339.21 324.31Z" fill="#ff00ff"/>
<path d="M355.84 314.73L359.74 321.33L351.94 321.33Z" fill="#ff00ff"/>
<path d="M368.58 315.42L372.48 322.02L364.68 322.02Z" fill="#ff00ff"/>
<path d="M381.31 318.17L385.21 324.77L377.41 324.77Z" fill="#ff00ff"/>
<path d="M394.05 324.14L397.95 330.74L390.15 330.74Z" fill="#ff00ff"/>
<path d="M406.78 326.43L410.68 333.03L402.88 333.03Z" fill="#ff00ff"/>
<path d="M419.51 326.89L423.41 333.49L415.61 333.49Z" fill="#ff00ff"/>
<path d="M432.25 325.51L436.15 332.11L428.35 332.11Z" fill="#ff00ff"/>
<path d="M444.98 325.28L448.88 331.88L441.08 331.88Z" fill="#ff00ff"/>
<path d="M457.72 327.81L461.62 334.41L453.82 334.41Z" fill="#ff00ff"/>
<path d="M470.45 330.10L474.35 336.70L466.55 336.70Z" fill="#ff00ff"/>
<path d="M483.18 330.56L487.08 337.16L479.28 337.16Z" fill="#ff00ff"/>
<path d="M495.92 330.79L499.82 337.39L492.02 337.39Z" fill="#ff00ff"/>
<path d="M508.65 331.02L512.55 337.62L504.75 337.62Z" fill="#ff00ff"/>
<path d="M521.39 331.25L525.29 337.85L517.49 337.85Z" fill="#ff00ff"/>
<path d="M534.12 331.48L538.02 338.08L530.22 338.08Z" fill="#ff00ff"/>
<path d="M546.85 331.94L550.75 338.54L542.95 338.54Z" fill="#ff00ff"/>
<path d="M559.59 332.63L563.49 339.23L555.69 339.23Z" fill="#ff00ff"/>
<path d="M572.32 333.32L576.22 339.92L568.42 339.92Z" fill="#ff00ff"/>
<path d="M585.06 333.87L588.96 340.47L581.16 340.47Z" fill="#ff00ff"/>
<path d="M597.79 334.14L601.69 340.74L593.89 340.74Z" fill="#ff00ff"/>
<path d="M610.52 334.46L614.42 341.06L606.62 341.06Z" fill="#ff00ff"/>
<path d="M623.26 334.46L627.16 341.06L619.36 341.06Z" fill="#ff00ff"/>
<path d="M635.99 334.60L639.89 341.20L632.09 341.20Z" fill="#ff00ff"/>
<path d="M648.73 334.92L652.63 341.52L644.83 341.52Z" fill="#ff00ff"/>
<path d="M661.46 335.02L665.36 341.62L657.56 341.62Z" fill="#ff00ff"/>
<path d="M674.19 335.15L678.09 341.75L670.29 341.75Z" fill="#ff00ff"/>
<path d="M686.93 335.61L690.83 342.21L683.03 342.21Z" fill="#ff00ff"/>
<path d="M699.66 335.70L703.56 342.30L695.76 342.30Z" fill="#ff00ff"/>
<path d="M712.40 335.75L716.30 342.35L708.50 342.35Z" fill="#ff00ff"/>
<path d="M725.13 335.84L729.03 342.44L721.23 342.44Z" fill="#ff00ff"/>
<path d="M737.86 335.89L741.76 342.49L733.96 342.49Z" fill="#ff00ff"/>
<path d="M750.60 335.98L754.50 342.58L746.70 342.58Z" fill="#ff00ff"/>
<path d="M763.33 336.03L767.23 342.63L759.43 342.63Z" fill="#ff00ff"/>
<text x="665.7" y="174.00" text-anchor="end">Ra=20000</text>
<path d="M681.7 164.90L755.5 164.90" stroke="#ff00ff" stroke-width="2.5" stroke-dasharray="1.2 1.7" fill="none"/>
<path d="M718.60 160.60L722.50 167.20L714.70 167.20Z" fill="#ff00ff"/>
<polyline points="152.10,5.76 164.83,311.00 177.57,344.27 190.30,358.27 203.04,361.49 215.77,337.62 228.50,317.42 241.24,304.57 253.97,293.09 266.71,285.75 279.44,292.18 292.17,299.98 304.91,310.54 317.64,311.00 330.38,309.16 343.11,318.34 355.84,324.76 368.58,326.37 381.31,325.22 394.05,324.31 406.78,325.22 419.51,327.52 432.25,330.73 444.98,333.03 457.72,334.86 470.45,336.01 483.18,336.24 495.92,336.93 508.65,336.93 521.39,336.93 534.12,336.70 546.85,337.25 559.59,338.08 572.32,338.44 585.06,338.86 597.79,339.13 610.52,339.45 623.26,339.45 635.99,339.59 648.73,339.91 661.46,340.00 674.19,340.14 686.93,340.60 699.66,340.69 712.40,340.74 725.13,340.83 737.86,340.88 750.60,340.97 763.33,341.01" fill="none" stroke="#00ff00" stroke-width="2.5" stroke-dasharray="4.7 2.2" clip-path="url(#c)"/>
<circle cx="164.83" cy="311.00" r="3.8" fill="#00ff00"/>
<circle cx="177.57" cy="344.27" r="3.8" fill="#00ff00"/>
<circle cx="190.30" cy="358.27" r="3.8" fill="#00ff00"/>
<circle cx="203.04" cy="361.49" r="3.8" fill="#00ff00"/>
<circle cx="215.77" cy="337.62" r="3.8" fill="#00ff00"/>
<circle cx="228.50" cy="317.42" r="3.8" fill="#00ff00"/>
<circle cx="241.24" cy="304.57" r="3.8" fill="#00ff00"/>
<circle cx="253.97" cy="293.09" r="3.8" fill="#00ff00"/>
<circle cx="266.71" cy="285.75" r="3.8" fill="#00ff00"/>
<circle cx="279.44" cy="292.18" r="3.8" fill="#00ff00"/>
<circle cx="292.17" cy="299.98" r="3.8" fill="#00ff00"/>
<circle cx="304.91" cy="310.54" r="3.8" fill="#00ff00"/>
<circle cx="317.64" cy="311.00" r="3.8" fill="#00ff00"/>
<circle cx="330.38" cy="309.16" r="3.8" fill="#00ff00"/>
<circle cx="343.11" cy="318.34" r="3.8" fill="#00ff00"/>
<circle cx="355.84" cy="324.76" r="3.8" fill="#00ff00"/>
<circle cx="368.58" cy="326.37" r="3.8" fill="#00ff00"/>
<circle cx="381.31" cy="325.22" r="3.8" fill="#00ff00"/>
<circle cx="394.05" cy="324.31" r="3.8" fill="#00ff00"/>
<circle cx="406.78" cy="325.22" r="3.8" fill="#00ff00"/>
<circle cx="419.51" cy="327.52" r="3.8" fill="#00ff00"/>
<circle cx="432.25" cy="330.73" r="3.8" fill="#00ff00"/>
<circle cx="444.98" cy="333.03" r="3.8" fill="#00ff00"/>
<circle cx="457.72" cy="334.86" r="3.8" fill="#00ff00"/>
<circle cx="470.45" cy="336.01" r="3.8" fill="#00ff00"/>
<circle cx="483.18" cy="336.24" r="3.8" fill="#00ff00"/>
<circle cx="495.92" cy="336.93" r="3.8" fill="#00ff00"/>
<circle cx="508.65" cy="336.93" r="3.8" fill="#00ff00"/>
<circle cx="521.39" cy="336.93" r="3.8" fill="#00ff00"/>
<circle cx="534.12" cy="336.70" r="3.8" fill="#00ff00"/>
<circle cx="546.85" cy="337.25" r="3.8" fill="#00ff00"/>
<circle cx="559.59" cy="338.08" r="3.8" fill="#00ff00"/>
<circle cx="572.32" cy="338.44" r="3.8" fill="#00ff00"/>
<circle cx="585.06" cy="338.86" r="3.8" fill="#00ff00"/>
<circle cx="597.79" cy="339.13" r="3.8" fill="#00ff00"/>
<circle cx="610.52" cy="339.45" r="3.8" fill="#00ff00"/>
<circle cx="623.26" cy="339.45" r="3.8" fill="#00ff00"/>
<circle cx="635.99" cy="339.59" r="3.8" fill="#00ff00"/>
<circle cx="648.73" cy="339.91" r="3.8" fill="#00ff00"/>
<circle cx="661.46" cy="340.00" r="3.8" fill="#00ff00"/>
<circle cx="674.19" cy="340.14" r="3.8" fill="#00ff00"/>
<circle cx="686.93" cy="340.60" r="3.8" fill="#00ff00"/>
<circle cx="699.66" cy="340.69" r="3.8" fill="#00ff00"/>
<circle cx="712.40" cy="340.74" r="3.8" fill="#00ff00"/>
<circle cx="725.13" cy="340.83" r="3.8" fill="#00ff00"/>
<circle cx="737.86" cy="340.88" r="3.8" fill="#00ff00"/>
<circle cx="750.60" cy="340.97" r="3.8" fill="#00ff00"/>
<circle cx="763.33" cy="341.01" r="3.8" fill="#00ff00"/>
<text x="665.7" y="201.70" text-anchor="end">Ra=25000</text>
<path d="M681.7 192.60L755.5 192.60" stroke="#00ff00" stroke-width="2.5" stroke-dasharray="4.7 2.2" fill="none"/>
<circle cx="718.60" cy="192.60" r="3.8" fill="#00ff00"/>
</svg></body></html>
